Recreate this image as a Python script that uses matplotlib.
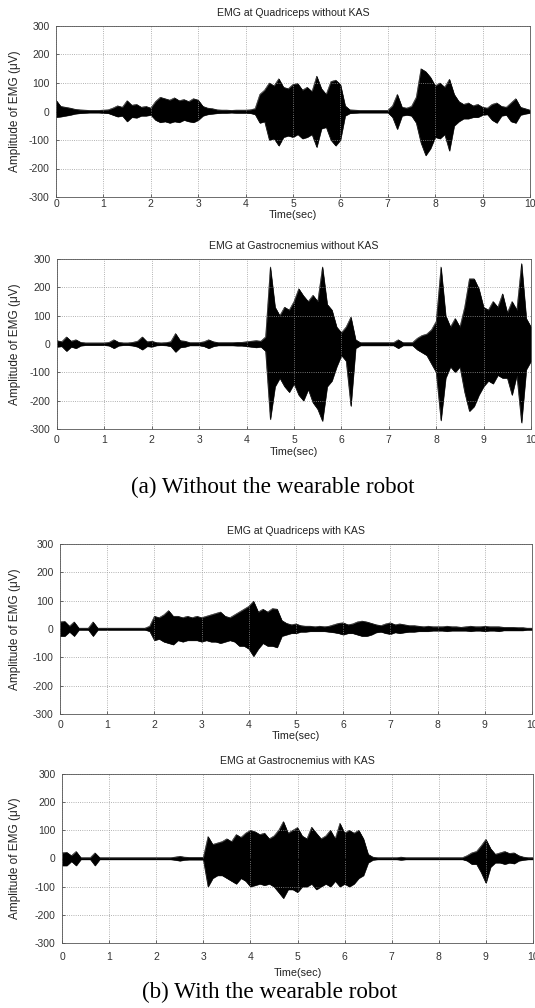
import numpy as np
import matplotlib
matplotlib.use('Agg')
import matplotlib.pyplot as plt

plt.rcParams['font.family'] = ['Liberation Sans', 'DejaVu Sans']
plt.rcParams['axes.unicode_minus'] = False

# time grid of the envelopes (seconds), one value every 0.1 s
t = np.round(np.arange(0, 10.01, 0.1), 1)

# Quadriceps without KAS: upper / lower envelope (uV)
quad_wo_hi = [40, 18, 15, 12, 8, 6, 5, 4, 4, 4,
              5, 6, 12, 20, 15, 38, 22, 25, 15, 18,
              12, 35, 50, 45, 40, 48, 38, 42, 35, 45,
              40, 18, 12, 10, 6, 5, 5, 4, 5, 5,
              5, 6, 10, 60, 75, 100, 90, 115, 85, 80,
              95, 98, 75, 85, 70, 124, 80, 60, 105, 110,
              95, 20, 6, 5, 4, 4, 4, 4, 4, 4,
              4, 20, 60, 15, 12, 18, 50, 150, 140, 120,
              90, 100, 85, 113, 60, 35, 25, 30, 20, 25,
              15, 12, 25, 30, 18, 15, 30, 45, 15, 10, 5]
quad_wo_lo = [-20, -18, -15, -12, -8, -6, -5, -4, -4, -4,
              -5, -6, -12, -18, -15, -35, -20, -22, -15, -15,
              -12, -30, -38, -35, -40, -35, -38, -30, -35, -38,
              -30, -15, -10, -8, -6, -5, -5, -4, -5, -5,
              -5, -6, -10, -40, -35, -100, -95, -120, -90, -85,
              -90, -80, -95, -90, -80, -125, -60, -55, -100, -120,
              -100, -15, -6, -5, -4, -4, -4, -4, -4, -4,
              -4, -20, -62, -15, -12, -15, -40, -110, -154, -130,
              -90, -95, -80, -138, -50, -35, -25, -25, -20, -20,
              -12, -10, -30, -40, -15, -12, -35, -40, -12, -8, -5]

# Gastrocnemius without KAS
gast_wo_hi = [12, 8, 25, 10, 15, 6, 4, 4, 4, 4,
              4, 6, 15, 6, 4, 4, 6, 10, 25, 8,
              10, 5, 4, 5, 8, 37, 12, 10, 5, 5,
              5, 8, 15, 8, 5, 5, 5, 5, 6, 6,
              8, 10, 12, 10, 25, 272, 130, 100, 130, 120,
              150, 195, 170, 150, 172, 150, 272, 140, 120, 60,
              40, 60, 95, 15, 5, 5, 5, 5, 5, 5,
              5, 5, 15, 5, 5, 5, 20, 30, 35, 50,
              80, 272, 100, 60, 90, 60, 130, 230, 230, 195,
              130, 120, 150, 130, 177, 110, 150, 120, 284, 90, 60]
gast_wo_lo = [-10, -8, -25, -10, -15, -6, -4, -4, -4, -4,
              -4, -6, -15, -6, -4, -4, -6, -10, -20, -8,
              -10, -5, -4, -5, -8, -28, -12, -10, -5, -5,
              -5, -8, -15, -8, -5, -5, -5, -5, -6, -6,
              -8, -10, -12, -10, -25, -266, -150, -120, -150, -170,
              -140, -180, -200, -160, -207, -230, -272, -150, -130, -80,
              -40, -60, -219, -15, -5, -5, -5, -5, -5, -5,
              -5, -5, -15, -5, -5, -5, -20, -30, -40, -70,
              -100, -270, -120, -80, -100, -80, -170, -237, -220, -180,
              -150, -130, -140, -110, -120, -120, -180, -110, -278, -90, -60]

# Quadriceps with KAS
quad_w_hi = [25, 27, 10, 25, 3, 3, 3, 25, 3, 3,
             3, 3, 3, 3, 3, 3, 3, 3, 3, 10,
             45, 40, 50, 65, 45, 45, 40, 45, 40, 45,
             40, 45, 50, 55, 60, 45, 40, 50, 60, 70,
             80, 98, 60, 70, 60, 72, 70, 30, 20, 15,
             18, 12, 10, 10, 8, 10, 8, 10, 15, 20,
             22, 15, 18, 25, 28, 25, 20, 15, 12, 18,
             22, 15, 18, 15, 12, 12, 10, 8, 10, 8,
             8, 8, 10, 8, 8, 6, 8, 10, 8, 8,
             10, 8, 8, 8, 6, 6, 6, 5, 5, 3, 3]
quad_w_lo = [-25, -25, -10, -25, -3, -3, -3, -25, -3, -3,
             -3, -3, -3, -3, -3, -3, -3, -3, -3, -8,
             -40, -35, -45, -50, -55, -40, -45, -40, -40, -40,
             -45, -40, -45, -45, -50, -45, -40, -45, -60, -60,
             -70, -96, -70, -50, -60, -60, -65, -25, -20, -15,
             -15, -10, -10, -8, -8, -8, -8, -10, -12, -15,
             -20, -15, -15, -20, -25, -25, -20, -12, -10, -15,
             -18, -12, -15, -12, -10, -10, -8, -8, -8, -6,
             -6, -6, -8, -6, -6, -6, -6, -8, -6, -6,
             -8, -6, -6, -8, -5, -5, -5, -5, -5, -3, -3]

# Gastrocnemius with KAS
gast_w_hi = [20, 22, 10, 25, 3, 3, 3, 20, 3, 3,
             3, 3, 3, 3, 3, 3, 3, 3, 3, 3,
             3, 3, 3, 3, 5, 8, 5, 4, 4, 4,
             4, 78, 50, 55, 60, 70, 60, 85, 75, 90,
             100, 95, 85, 90, 70, 80, 100, 131, 90, 100,
             110, 80, 70, 111, 90, 70, 80, 100, 70, 125,
             90, 100, 90, 100, 70, 15, 5, 3, 3, 3,
             3, 3, 5, 3, 3, 3, 3, 3, 3, 3,
             3, 3, 3, 3, 3, 3, 10, 20, 25, 45,
             68, 35, 15, 20, 25, 18, 20, 10, 5, 3, 3]
gast_w_lo = [-25, -25, -10, -25, -3, -3, -3, -25, -3, -3,
             -3, -3, -3, -3, -3, -3, -3, -3, -3, -3,
             -3, -3, -3, -3, -5, -8, -5, -4, -4, -4,
             -4, -100, -70, -60, -60, -70, -80, -90, -70, -80,
             -100, -95, -90, -95, -90, -100, -120, -141, -110, -110,
             -120, -100, -100, -90, -110, -100, -90, -100, -80, -100,
             -90, -100, -90, -70, -60, -15, -5, -3, -3, -3,
             -3, -3, -5, -3, -3, -3, -3, -3, -3, -3,
             -3, -3, -3, -3, -3, -3, -8, -20, -20, -50,
             -87, -30, -15, -15, -20, -15, -18, -8, -5, -3, -3]

titles = ['EMG at Quadriceps without KAS', 'EMG at Gastrocnemius without KAS',
          'EMG at Quadriceps with KAS', 'EMG at Gastrocnemius with KAS']
series = [(quad_wo_hi, quad_wo_lo), (gast_wo_hi, gast_wo_lo),
          (quad_w_hi, quad_w_lo), (gast_w_hi, gast_w_lo)]

# panel layout in pixels: left, right, top, bottom, x tick pad, xlabel top
W, H = 535, 1008
boxes = [(56, 530, 26, 197, 2, 210),
         (57, 531, 259, 429, 6, 447),
         (60, 532, 544, 714, 6, 731),
         (62, 533, 774, 943, 9, 968)]

fig = plt.figure(figsize=(W / 100, H / 100), dpi=100)

for (l, r, tp, bt, xpad, xl_top), title, (hi, lo) in zip(boxes, titles, series):
    ax = fig.add_axes([l / W, 1 - bt / H, (r - l) / W, (bt - tp) / H])
    ax.fill_between(t, lo, hi, color='black', lw=0.4)
    ax.plot(t, hi, color='black', lw=0.4)
    ax.plot(t, lo, color='black', lw=0.4)
    ax.axhline(0, color='black', lw=0.8)
    ax.set_xlim(0, 10)
    ax.set_ylim(-300, 300)
    ax.set_xticks(range(0, 11))
    ax.set_yticks(range(-300, 301, 100))
    ax.grid(True, linestyle=':', color='#999999', lw=0.6)
    ax.tick_params(direction='in', labelsize=7.5, length=2, width=0.5,
                   colors='#333333')
    ax.tick_params(axis='x', pad=xpad * 0.72)
    ax.tick_params(axis='y', pad=4.5)
    for s in ax.spines.values():
        s.set_linewidth(0.6)
        s.set_color('#555555')
    ax.set_title(title, fontsize=7.6, pad=7, color='#222222')
    ax.set_xlabel('Time(sec)', fontsize=7.8, color='#222222')
    ax.xaxis.set_label_coords(0.5, -(xl_top - bt) / (bt - tp))
    ax.set_ylabel('Amplitude of EMG (\u03bcV)', fontsize=8.5, color='#222222')
    ax.yaxis.set_label_coords((21 - l) / (r - l), 0.5)

fig.text(273 / W, 1 - 487 / H, '(a) Without the wearable robot', ha='center',
         va='center', fontsize=16.7, family='Liberation Serif')
fig.text(270 / W, 1 - 992 / H, '(b) With the wearable robot', ha='center',
         va='center', fontsize=16.7, family='Liberation Serif')

fig.savefig('out.png', dpi=100)
